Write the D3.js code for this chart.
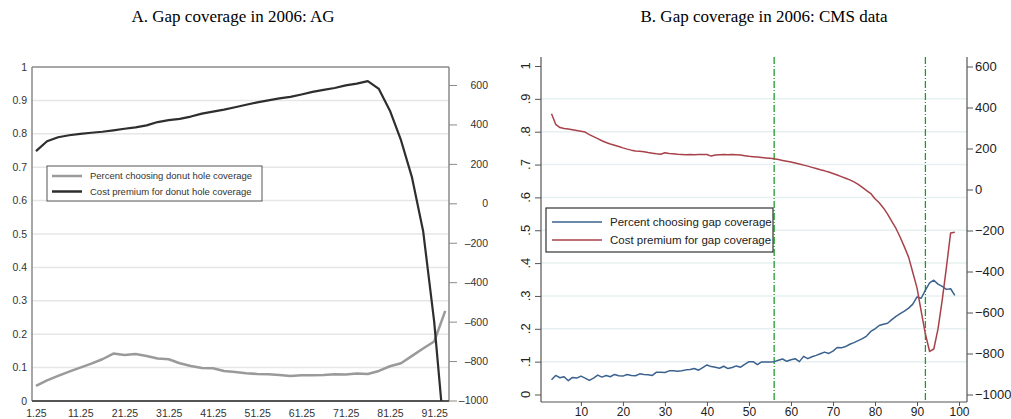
<!DOCTYPE html>
<meta charset="utf-8">
<style>
body { margin: 0; background: #fff; }
.title { font-family: "Liberation Serif", "Times New Roman", serif; font-size: 17px; fill: #000; }
.gridA line { stroke: #e6e6e6; stroke-width: 1.5px; }
.gridB line { stroke: #e7f0f1; stroke-width: 1.5px; }
.axA text { font-family: "Liberation Sans", Arial, sans-serif; font-size: 10.5px; fill: #333; }
.axB text { font-family: "Liberation Sans", Arial, sans-serif; font-size: 13px; fill: #222; }
.line { fill: none; stroke-linejoin: round; }
</style>
<body>
<script src="https://d3js.org/d3.v7.min.js"></script>
<script>

// ---- panel A data (AG) ----
var aX = [1.25, 3.75, 6.25, 8.75, 11.25, 13.75, 16.25, 18.75, 21.25, 23.75, 26.25, 28.75,
  31.25, 33.75, 36.25, 38.75, 41.25, 43.75, 46.25, 48.75, 51.25, 53.75, 56.25, 58.75,
  61.25, 63.75, 66.25, 68.75, 71.25, 73.75, 76.25, 78.75, 81.25, 83.75, 86.25, 88.75,
  91.25, 93.75];
var aPercent = [0.045, 0.062, 0.075, 0.088, 0.1, 0.112, 0.125, 0.142, 0.138, 0.141, 0.135, 0.127,
  0.125, 0.113, 0.105, 0.099, 0.098, 0.09, 0.087, 0.083, 0.081, 0.08, 0.078, 0.075,
  0.077, 0.077, 0.078, 0.08, 0.079, 0.082, 0.081, 0.09, 0.104, 0.113, 0.135, 0.157,
  0.178, 0.27];
var aCost = [265, 315, 335, 345, 352, 358, 363, 370, 378, 385, 395, 412,
  422, 428, 440, 455, 465, 475, 487, 500, 512, 522, 532, 540,
  552, 565, 575, 585, 598, 607, 620, 580, 470, 320, 130, -140,
  -600, -1230];
var aXTicks = [1.25, 11.25, 21.25, 31.25, 41.25, 51.25, 61.25, 71.25, 81.25, 91.25];
var aLeftTicks = [0, 0.1, 0.2, 0.3, 0.4, 0.5, 0.6, 0.7, 0.8, 0.9, 1];
var aRightTicks = [-1000, -800, -600, -400, -200, 0, 200, 400, 600];

// ---- panel B data (CMS) ----
var bX = [3, 4, 5, 6, 7, 8, 9, 10, 11, 12, 13, 14, 15, 16, 17, 18, 19, 20, 21, 22, 23, 24, 25,
  26, 27, 28, 29, 30, 31, 32, 33, 34, 35, 36, 37, 38, 39, 40, 41, 42, 43, 44, 45, 46, 47, 48,
  49, 50, 51, 52, 53, 54, 55, 56, 57, 58, 59, 60, 61, 62, 63, 64, 65, 66, 67, 68, 69, 70, 71,
  72, 73, 74, 75, 76, 77, 78, 79, 80, 81, 82, 83, 84, 85, 86, 87, 88, 89, 90, 91, 92, 93, 94,
  95, 96, 97, 98, 99];
var bPercent = [0.045, 0.058, 0.051, 0.054, 0.042, 0.052, 0.05, 0.056, 0.05, 0.043, 0.05, 0.059,
  0.053, 0.058, 0.054, 0.061, 0.057, 0.056, 0.061, 0.058, 0.057, 0.063, 0.061, 0.06, 0.058,
  0.068, 0.068, 0.067, 0.072, 0.072, 0.071, 0.072, 0.075, 0.076, 0.079, 0.074, 0.082, 0.09,
  0.085, 0.083, 0.08, 0.086, 0.079, 0.082, 0.087, 0.083, 0.092, 0.1, 0.1, 0.091, 0.099, 0.099,
  0.099, 0.1, 0.104, 0.108, 0.101, 0.106, 0.109, 0.1, 0.116, 0.109, 0.115, 0.119, 0.124, 0.129,
  0.125, 0.132, 0.143, 0.142, 0.146, 0.153, 0.158, 0.164, 0.17, 0.178, 0.192, 0.2, 0.21, 0.214,
  0.217, 0.228, 0.238, 0.246, 0.254, 0.263, 0.275, 0.297, 0.293, 0.318, 0.34, 0.348, 0.336,
  0.329, 0.32, 0.322, 0.302];
var bCost = [370, 318, 302, 298, 295, 292, 288, 284, 280, 268, 258, 248, 238, 229, 222, 216, 210,
  203, 197, 192, 188, 186, 184, 180, 177, 174, 172, 179, 176, 174, 172, 171, 170, 171, 170, 171,
  171, 171, 163, 168, 170, 171, 170, 171, 170, 168, 165, 162, 160, 158, 156, 154, 152, 150, 146,
  142, 138, 134, 129, 124, 119, 114, 108, 102, 96, 91, 85, 78, 71, 63, 55, 47, 37, 25, 10, -5,
  -20, -45, -65, -90, -120, -155, -190, -233, -280, -330, -405, -480, -595, -705, -790, -778,
  -680, -540, -380, -212, -208];
var bXTicks = [10, 20, 30, 40, 50, 60, 70, 80, 90, 100];
var bLeftTicks = [0, 0.1, 0.2, 0.3, 0.4, 0.5, 0.6, 0.7, 0.8, 0.9, 1];
var bRightTicks = [-1000, -800, -600, -400, -200, 0, 200, 400, 600];
var bMarkers = [56, 92];

var svg = d3.select("body").append("svg")
  .attr("width", 1011)
  .attr("height", 419);

// titles
svg.append("text").attr("class", "title")
  .attr("x", 233).attr("y", 22).attr("text-anchor", "middle")
  .text("A. Gap coverage in 2006: AG");
svg.append("text").attr("class", "title")
  .attr("x", 764).attr("y", 22).attr("text-anchor", "middle")
  .text("B. Gap coverage in 2006: CMS data");

// ================= panel A =================
var A = {left: 32, right: 449, top: 67, bottom: 401};
var xA = d3.scaleLinear().domain([0.35, 94.6]).range([A.left, A.right]);
var yAL = d3.scaleLinear().domain([0, 1]).range([A.bottom, A.top]);
var yAR = d3.scaleLinear().domain([-1000, 600]).range([400.5, 85]);

var gA = svg.append("g");

gA.append("defs").append("clipPath").attr("id", "clipA")
  .append("rect").attr("x", A.left).attr("y", A.top)
  .attr("width", A.right - A.left).attr("height", A.bottom - A.top);

// gridlines
gA.append("g").attr("class", "gridA")
  .selectAll("line").data(aLeftTicks.filter(function(d) { return d > 0 && d < 1; }))
  .enter().append("line")
  .attr("x1", A.left).attr("x2", A.right)
  .attr("y1", function(d) { return yAL(d); })
  .attr("y2", function(d) { return yAL(d); });

// frame
gA.append("line").attr("x1", A.left).attr("x2", A.right).attr("y1", A.top).attr("y2", A.top)
  .attr("stroke", "#8a8a8a").attr("stroke-width", 1.5);
gA.append("line").attr("x1", A.left).attr("x2", A.left).attr("y1", A.top).attr("y2", A.bottom)
  .attr("stroke", "#8a8a8a").attr("stroke-width", 1.5);

// left axis labels (no tick marks)
gA.append("g").attr("class", "axA")
  .selectAll("text").data(aLeftTicks).enter().append("text")
  .attr("x", 27).attr("y", function(d) { return yAL(d); })
  .attr("dy", "0.35em").attr("text-anchor", "end")
  .text(function(d) { return d === 0 || d === 1 ? d : d.toFixed(1); });

// right axis
var axAR = gA.append("g").attr("class", "axA")
  .attr("transform", "translate(" + A.right + ",0)")
  .call(d3.axisRight(yAR).tickValues(aRightTicks).tickSize(8).tickPadding(31)
    .tickFormat(function(d) { return d < 0 ? "\u2013" + Math.abs(d) : d; }));
axAR.select(".domain").attr("stroke", "#8a8a8a").attr("stroke-width", 1.5)
  .attr("d", "M0," + A.top + "V" + A.bottom);
axAR.selectAll(".tick line").attr("stroke", "#8a8a8a");
axAR.selectAll(".tick text").attr("text-anchor", "end");

// bottom axis
var axAB = gA.append("g").attr("class", "axA")
  .attr("transform", "translate(0," + A.bottom + ")")
  .call(d3.axisBottom(xA).tickValues(aXTicks).tickSize(0).tickPadding(9)
    .tickFormat(function(d) { return d.toFixed(2); }));
axAB.select(".domain").attr("stroke", "#555").attr("stroke-width", 2)
  .attr("d", "M" + A.left + ",0H" + A.right);

// lines
var aRows = aX.map(function(x, i) { return {x: x, p: aPercent[i], c: aCost[i]}; });
gA.append("path").datum(aRows).attr("class", "line")
  .attr("clip-path", "url(#clipA)")
  .attr("stroke", "#9a9a9a").attr("stroke-width", 2.5)
  .attr("d", d3.line().x(function(d) { return xA(d.x); }).y(function(d) { return yAL(d.p); }));
gA.append("path").datum(aRows).attr("class", "line")
  .attr("clip-path", "url(#clipA)")
  .attr("stroke", "#2e2e2e").attr("stroke-width", 2.2)
  .attr("d", d3.line().x(function(d) { return xA(d.x); }).y(function(d) { return yAR(d.c); }));

// legend A
var legA = gA.append("g").attr("transform", "translate(47,166)");
legA.append("rect").attr("width", 215).attr("height", 35)
  .attr("fill", "#fff").attr("stroke", "#555").attr("stroke-width", 1);
var legAItems = [
  {label: "Percent choosing donut hole coverage", color: "#9a9a9a"},
  {label: "Cost premium for donut hole coverage", color: "#2e2e2e"}
];
legAItems.forEach(function(d, i) {
  legA.append("line").attr("x1", 5).attr("x2", 35)
    .attr("y1", 10 + i * 15.5).attr("y2", 10 + i * 15.5)
    .attr("stroke", d.color).attr("stroke-width", 2.5);
  legA.append("text").attr("x", 43).attr("y", 10 + i * 15.5).attr("dy", "0.35em")
    .style("font-family", "Liberation Sans, Arial, sans-serif")
    .style("font-size", "9.5px").style("fill", "#333")
    .text(d.label);
});

// ================= panel B =================
var B = {left: 541, right: 967, top: 57, bottom: 402};
var xB = d3.scaleLinear().domain([0.5, 101.9]).range([B.left, B.right]);
var yBL = d3.scaleLinear().domain([0, 1]).range([394.5, 66]);
var yBR = d3.scaleLinear().domain([-1000, 600]).range([394.5, 66.5]);

var gB = svg.append("g");

gB.append("g").attr("class", "gridB")
  .selectAll("line").data(bLeftTicks.filter(function(d) { return d > 0 && d < 1; }))
  .enter().append("line")
  .attr("x1", B.left).attr("x2", B.right)
  .attr("y1", function(d) { return yBL(d); })
  .attr("y2", function(d) { return yBL(d); });

// left axis with rotated labels
var axBL = gB.append("g").attr("class", "axB")
  .attr("transform", "translate(" + B.left + ",0)")
  .call(d3.axisLeft(yBL).tickValues(bLeftTicks).tickSize(6).tickFormat(function() { return ""; }));
axBL.select(".domain").attr("stroke", "#555").attr("stroke-width", 1.2)
  .attr("d", "M0," + B.top + "V" + B.bottom);
axBL.selectAll(".tick line").attr("stroke", "#555");
gB.append("g").attr("class", "axB")
  .selectAll("text").data(bLeftTicks).enter().append("text")
  .attr("transform", function(d) { return "translate(525," + yBL(d) + ") rotate(-90)"; })
  .attr("text-anchor", "middle").attr("dy", "0.35em")
  .text(function(d) { return d === 0 || d === 1 ? d : d3.format(".1f")(d).replace(/^0/, ""); });

// right axis
var axBR = gB.append("g").attr("class", "axB")
  .attr("transform", "translate(" + B.right + ",0)")
  .call(d3.axisRight(yBR).tickValues(bRightTicks).tickSize(6).tickPadding(2)
    .tickFormat(d3.format("d")));
axBR.select(".domain").attr("stroke", "#555").attr("stroke-width", 1.2)
  .attr("d", "M0," + B.top + "V" + B.bottom);
axBR.selectAll(".tick line").attr("stroke", "#555");

// bottom axis
var axBB = gB.append("g").attr("class", "axB")
  .attr("transform", "translate(0," + B.bottom + ")")
  .call(d3.axisBottom(xB).tickValues(bXTicks).tickSize(4).tickPadding(1));
axBB.select(".domain").attr("stroke", "#555").attr("stroke-width", 1.2)
  .attr("d", "M" + B.left + ",0H" + B.right);
axBB.selectAll(".tick line").attr("stroke", "#555");
axBB.selectAll(".tick text").style("font-size", "12px");

// vertical markers
gB.selectAll(".marker").data(bMarkers).enter().append("line")
  .attr("class", "marker")
  .attr("x1", function(d) { return xB(d); }).attr("x2", function(d) { return xB(d); })
  .attr("y1", B.top).attr("y2", B.bottom)
  .attr("stroke", "#1f9a2a").attr("stroke-width", 1.3)
  .attr("stroke-dasharray", "7,2,1,2");

var bRows = bX.map(function(x, i) { return {x: x, p: bPercent[i], c: bCost[i]}; });
gB.append("path").datum(bRows).attr("class", "line")
  .attr("stroke", "#3b628e").attr("stroke-width", 1.5)
  .attr("d", d3.line().x(function(d) { return xB(d.x); }).y(function(d) { return yBL(d.p); }));
gB.append("path").datum(bRows).attr("class", "line")
  .attr("stroke", "#a8424a").attr("stroke-width", 1.5)
  .attr("d", d3.line().x(function(d) { return xB(d.x); }).y(function(d) { return yBR(d.c); }));

// legend B
var legB = gB.append("g").attr("transform", "translate(546,208)");
legB.append("rect").attr("width", 227).attr("height", 44)
  .attr("fill", "#fff").attr("stroke", "#333").attr("stroke-width", 1.2);
var legBItems = [
  {label: "Percent choosing gap coverage", color: "#3b628e"},
  {label: "Cost premium for gap coverage", color: "#a8424a"}
];
legBItems.forEach(function(d, i) {
  legB.append("line").attr("x1", 6).attr("x2", 56)
    .attr("y1", 14 + i * 18).attr("y2", 14 + i * 18)
    .attr("stroke", d.color).attr("stroke-width", 1.5);
  legB.append("text").attr("x", 64).attr("y", 14 + i * 18).attr("dy", "0.35em")
    .style("font-family", "Liberation Sans, Arial, sans-serif")
    .style("font-size", "11.5px").style("fill", "#222")
    .text(d.label);
});

</script>
</body>
